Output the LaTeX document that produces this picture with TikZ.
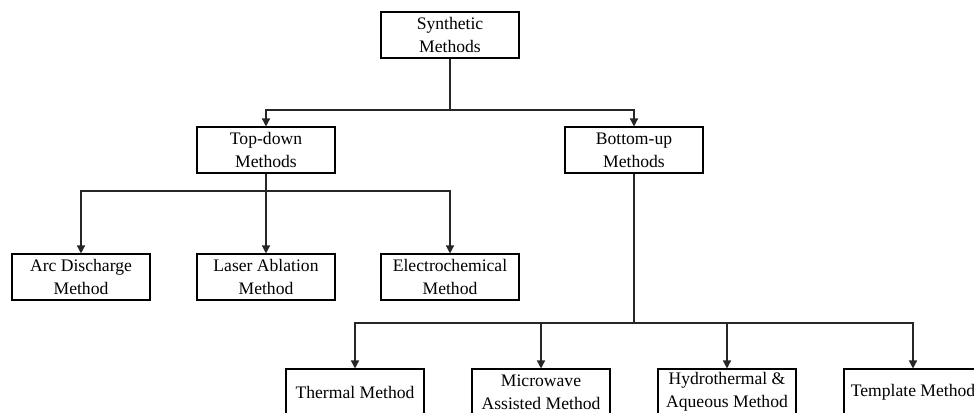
\documentclass[tikz,border=0pt]{standalone}
\usepackage{fontspec}
\setmainfont{Liberation Serif}
\usetikzlibrary{arrows.meta}
\tikzset{
  methbox/.style={draw, line width=0.8pt, minimum width=103.5pt, minimum height=34.5pt,
    inner sep=0pt, align=center, font=\fontsize{13.2}{17}\selectfont},
  tree/.style={line width=1pt, black!85},
  arr/.style={tree, -{Triangle[width=6pt,length=6pt]}}
}
\begin{document}
\begin{tikzpicture}[x=0.75pt,y=-0.75pt]
    \useasboundingbox (0,0) rectangle (974,412);
    \clip (0,0) rectangle (974,412);
    % top level
    \node[methbox] (syn) at (450,35) {Synthetic\\Methods};
    \node[methbox] (td) at (266,150) {Top-down\\Methods};
    \node[methbox] (bu) at (634,150) {Bottom-up\\Methods};
    % top-down branch
    \node[methbox] (arc) at (81,277) {Arc Discharge\\Method};
    \node[methbox] (las) at (266,277) {Laser Ablation\\Method};
    \node[methbox] (ele) at (450,277) {Electrochemical\\Method};
    % bottom-up branch
    \node[methbox] (the) at (355,392) {Thermal Method};
    \node[methbox] (mic) at (541,392) {Microwave\\Assisted Method};
    \node[methbox] (hyd) at (727,392) {Hydrothermal \&\\Aqueous Method};
    \node[methbox] (tem) at (913,392) {Template Method};
    % junctions
    \coordinate (j1) at (450,110);
    \coordinate (j2) at (266,191);
    \coordinate (j3) at (634,323);
    \draw[tree] (syn) -- (j1);
    \draw[arr] (j1) -| (td);
    \draw[arr] (j1) -| (bu);
    \draw[tree] (td) -- (j2);
    \draw[arr] (j2) -| (arc);
    \draw[arr] (j2) -- (las);
    \draw[arr] (j2) -| (ele);
    \draw[tree] (bu) -- (j3);
    \draw[arr] (j3) -| (the);
    \draw[arr] (j3) -| (mic);
    \draw[arr] (j3) -| (hyd);
    \draw[arr] (j3) -| (tem);
\end{tikzpicture}
\end{document}
